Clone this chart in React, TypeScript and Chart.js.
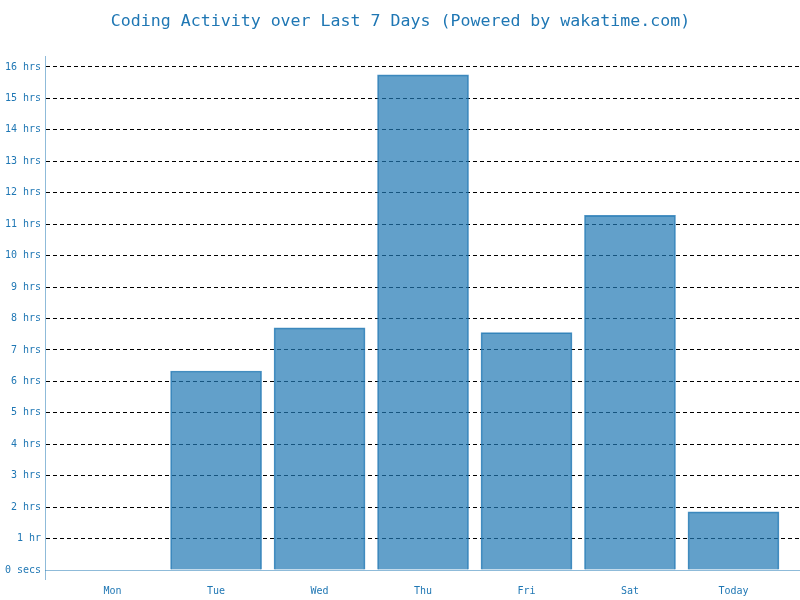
import React, { useEffect, useRef } from "react";
import { Chart, registerables } from "chart.js";

Chart.register(...registerables);

const categories = ["Mon", "Tue", "Wed", "Thu", "Fri", "Sat", "Today"];
const hoursCoded = [0, 6.33, 7.7, 15.75, 7.55, 11.28, 1.85];
const yTickLabels = [
  "0 secs", "1 hr", "2 hrs", "3 hrs", "4 hrs", "5 hrs", "6 hrs", "7 hrs", "8 hrs",
  "9 hrs", "10 hrs", "11 hrs", "12 hrs", "13 hrs", "14 hrs", "15 hrs", "16 hrs",
];
const titleText = "Coding Activity over Last 7 Days (Powered by wakatime.com)";

const BLUE = "#1f77b4";
const AXIS = "rgba(31,119,180,0.5)";
const FONT = "'DejaVu Sans Mono', monospace";

export default function App() {
  const ref = useRef<HTMLCanvasElement | null>(null);

  useEffect(() => {
    if (!ref.current) return;
    const chart = new Chart(ref.current, {
      type: "bar",
      data: {
        datasets: [
          {
            label: "Coding time",
            data: hoursCoded.map((h, i) => ({ x: i, y: h })),
            backgroundColor: "rgba(31,119,180,0.7)",
            borderColor: "rgba(31,119,180,0.8)",
            borderWidth: 1,
            barThickness: 91,
          },
        ],
      },
      options: {
        animation: false,
        responsive: true,
        maintainAspectRatio: false,
        layout: { padding: { left: 1, right: 0, top: 0, bottom: -2 } },
        plugins: {
          legend: { display: false },
          tooltip: { enabled: false },
          title: {
            display: true,
            text: titleText,
            color: BLUE,
            font: { family: FONT, size: 16.6, weight: "normal" },
            padding: { top: 12, bottom: 25 },
          },
        },
        scales: {
          x: {
            type: "linear",
            offset: false,
            min: -0.652,
            max: 6.643,
            afterBuildTicks: (scale: any) => {
              scale.ticks = [{ value: scale.min }, ...categories.map((_, i) => ({ value: i }))];
            },
            grid: {
              offset: false,
              display: true,
              drawOnChartArea: false,
              drawTicks: true,
              tickLength: 10,
              color: (ctx: any) => (ctx.tick && ctx.tick.value < 0 ? AXIS : "transparent"),
              tickColor: (ctx: any) => (ctx.tick && ctx.tick.value < 0 ? AXIS : "transparent"),
            },
            border: { display: true, color: AXIS, width: 1 },
            ticks: {
              autoSkip: false,
              maxRotation: 0,
              padding: 5,
              color: BLUE,
              font: { family: FONT, size: 10 },
              callback: (v: any) => (Number.isInteger(v) && v >= 0 ? categories[v] : ""),
            },
          },
          y: {
            type: "linear",
            min: 0,
            max: 16.32,
            afterBuildTicks: (scale: any) => {
              scale.ticks = yTickLabels.map((_, i) => ({ value: i }));
            },
            grid: {
              drawTicks: false,
              lineWidth: 1,
              color: (ctx: any) => (ctx.tick && ctx.tick.value === 0 ? "transparent" : "#000"),
            },
            border: { display: true, color: AXIS, width: 1, dash: [4, 3] },
            ticks: {
              padding: 4,
              color: BLUE,
              font: { family: FONT, size: 10 },
              callback: (v: any) => yTickLabels[v] ?? "",
            },
          },
        },
      },
    });
    return () => chart.destroy();
  }, []);

  return (
    <div style={{ position: "fixed", left: 0, top: 0, width: 800, height: 600, background: "#fff" }}>
      <canvas ref={ref} />
    </div>
  );
}
